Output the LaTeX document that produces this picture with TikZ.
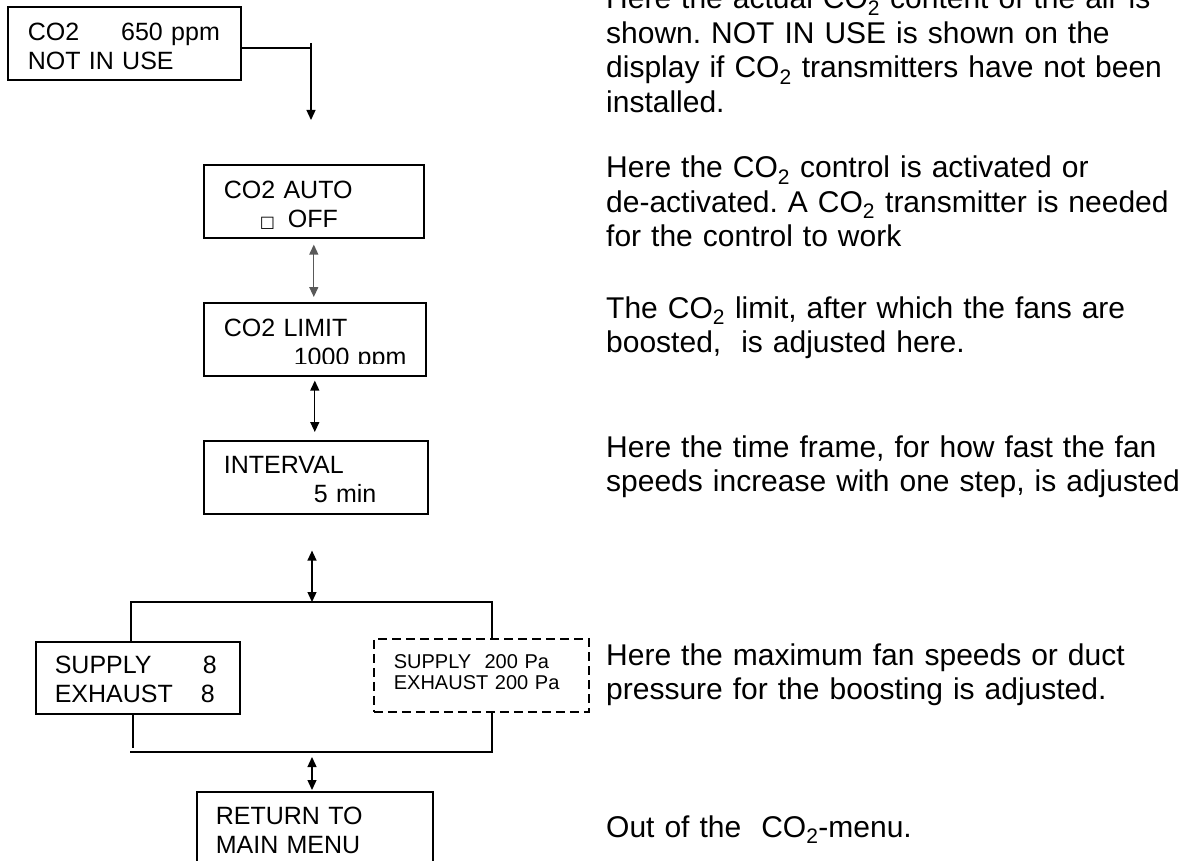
\documentclass[tikz,border=0pt]{standalone}
\usepackage{fontspec}
\setmainfont{Liberation Sans}
\newfontfamily\sqfont{DejaVu Sans}
\usetikzlibrary{arrows.meta}
\frenchspacing
\newcommand{\COtwo}{CO\textsubscript{2}}
\newcommand{\boxfont}{\fontsize{25}{29}\selectfont}
\newcommand{\optfont}{\fontsize{20}{21}\selectfont}
\newcommand{\notefont}{\fontsize{30}{34.5}\selectfont}
\tikzstyle{lcd}=[rectangle, draw, line width=1.6pt, anchor=north west, inner xsep=20pt, inner ysep=0pt, align=left, font=\boxfont]
\tikzstyle{optlcd}=[lcd, line width=1.7pt, dash pattern=on 9pt off 5pt, font=\optfont]
\tikzstyle{note}=[anchor=base west, inner sep=0pt, text width=580pt, align=left, font=\notefont]
\tikzstyle{link}=[line width=1.3pt]
\tikzstyle{fwd}=[link, -{Triangle[length=10pt,width=9pt]}]
\tikzstyle{both}=[link, {Triangle[length=10pt,width=9pt]}-{Triangle[length=10pt,width=9pt]}]

\begin{document}
\begin{tikzpicture}[x=1pt,y=-1pt]
	\clip (0,0) rectangle (1183,861);

	%The menu displays
	\draw (7,6) node[lcd, text width=193pt, text height=34pt, text depth=39pt] (co2)
		{\mbox{CO2\hspace{42pt}650 ppm}\\NOT IN USE};
	\draw (203,164) node[lcd, text width=180pt, text height=34pt, text depth=39pt] (auto)
		{CO2 AUTO\\\mbox{\hspace*{36pt}\makebox[28pt][l]{\sqfont\fontsize{16}{16}\selectfont □}OFF}};
	\draw (203,302) node[lcd, text width=182pt, text height=34pt, text depth=39pt] (limit)
		{CO2 LIMIT\\\mbox{\hspace*{70pt}1000 ppm}};
	\fill[white] (204.5,364) rectangle (423.5,373.5);
	\draw (203,440) node[lcd, text width=184pt, text height=33pt, text depth=40pt] (interval)
		{INTERVAL\\\mbox{\hspace*{90pt}5 min}};
	\draw (35,641) node[lcd, inner xsep=19pt, text width=166pt, text height=32pt, text depth=40pt] (sup)
		{\makebox[148pt][l]{SUPPLY}8\\\makebox[146pt][l]{EXHAUST}8};
	\draw (373,638) node[optlcd, text width=175pt, text height=30pt, text depth=43pt] (opt)
		{SUPPLY\ \ 200 Pa\\EXHAUST 200 Pa};
	\draw (196,791) node[lcd, inner xsep=19pt, text width=198pt, text height=33pt, text depth=50pt] (ret)
		{RETURN TO\\MAIN MENU};

	%The connectors
	\coordinate (j1) at (311,48);
	\coordinate (a1) at (311,43);
	\coordinate (a2) at (311,120);
	\draw[link] (co2.east |- j1) -- (j1);
	\draw[fwd] (a1) -- (a2);
	\draw[both, color=black!65, shorten <=6pt, shorten >=5pt] (auto.south) -- (auto.south |- limit.north);
	\draw[both, shorten <=4pt, shorten >=8pt] (limit.south) -- (limit.south |- interval.north);
	\coordinate (top) at (312,602);
	\draw[both, shorten <=36pt] (interval.south -| top) -- (top);

	%The fan speed branches
	\coordinate (tl) at (131,602);
	\coordinate (tr) at (492,602);
	\draw[link] (sup.north -| tl) -- (tl) -- (tr) -- (opt.north -| tr);
	\coordinate (bl) at (130,752);
	\coordinate (br) at (492,752);
	\coordinate (bl2) at (133,748);
	\draw[link] (sup.south -| bl2) -- (bl2);
	\draw[link] (bl) -- (br) -- (opt.south -| br);
	\coordinate (bot) at (312,752);
	\draw[both, shorten <=5pt, shorten >=1pt] (bot) -- (ret.north -| bot);

	%The explanations
	\draw (606,9) node[note] (n1) {Here the actual \COtwo{} content of the air is\\shown. NOT IN USE is shown on the\\display if \COtwo{} transmitters have not been\\installed.};
	\draw (606,178) node[note] (n2) {Here the \COtwo{} control is activated or\\de-activated. A \COtwo{} transmitter is needed\\for the control to work};
	\draw (606,318) node[note] (n3) {The \COtwo{} limit, after which the fans are\\boosted,\ \ is adjusted here.};
	\draw (606,457) node[note] (n4) {Here the time frame, for how fast the fan\\speeds increase with one step, is adjusted};
	\draw (606,665) node[note] (n5) {Here the maximum fan speeds or duct\\pressure for the boosting is adjusted.};
	\draw (606,837) node[note] (n6) {Out of the\ \ \COtwo-menu.};
\end{tikzpicture}
\end{document}
